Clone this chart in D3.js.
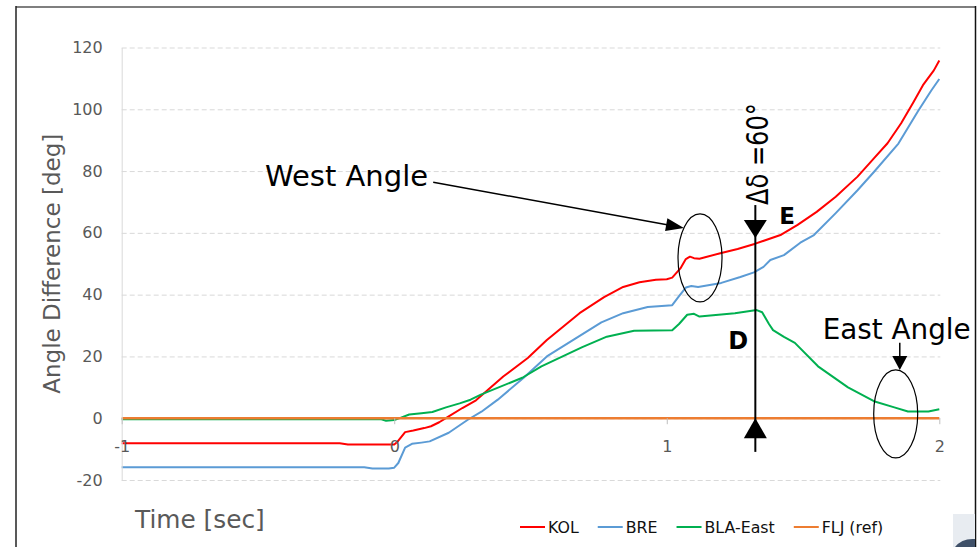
<!DOCTYPE html>
<html>
<head>
<meta charset="utf-8">
<script src="https://cdn.jsdelivr.net/npm/d3@7"></script>
<style>
  html, body { margin: 0; padding: 0; background: #fff; }
  svg { display: block; }
</style>
</head>
<body>
<svg id="chart" width="979" height="547"></svg>
<script>
// Angle difference of each bus against the FLJ reference, time in seconds
const seriesNames  = ["KOL", "BRE", "BLA-East", "FLJ (ref)"];
const seriesColors = ["#ff0000", "#5b9bd5", "#00b050", "#ed7d31"];

const kolAngle = [
  [-1, -8.1], [-0.2, -8.1], [-0.17, -8.5], [0, -8.5], [0.01, -7.8], [0.04, -4.5],
  [0.07, -4.0], [0.11, -3.2], [0.135, -2.6], [0.165, -1.3], [0.2, 0.6], [0.25, 3.3],
  [0.3, 5.8], [0.4, 13.5], [0.49, 19.5], [0.56, 25.3], [0.68, 34], [0.77, 39.2],
  [0.84, 42.5], [0.9, 44], [0.96, 44.8], [1.0, 45.0], [1.02, 45.5], [1.05, 48.5],
  [1.07, 51.5], [1.085, 52.3], [1.1, 51.8], [1.12, 51.6], [1.2, 53.5], [1.26, 54.8],
  [1.325, 56.5], [1.42, 59.4], [1.48, 62.6], [1.55, 66.8], [1.62, 71.7], [1.7, 78.2],
  [1.76, 84.1], [1.81, 89], [1.86, 95.5], [1.905, 102.3], [1.94, 107.8], [1.98, 112.6],
  [2.0, 115.8]
];
const breAngle = [
  [-1, -15.9], [-0.11, -15.9], [-0.08, -16.3], [-0.02, -16.3], [0, -16.0], [0.015, -14.5],
  [0.04, -9.5], [0.065, -8.3], [0.1, -7.9], [0.13, -7.5], [0.2, -4.7], [0.27, -0.5],
  [0.32, 2.1], [0.38, 6], [0.475, 13.1], [0.56, 20], [0.66, 25.5], [0.76, 31],
  [0.84, 34], [0.93, 36], [1.02, 36.6], [1.045, 39.5], [1.07, 42.3], [1.09, 42.8],
  [1.115, 42.5], [1.2, 43.8], [1.27, 45.7], [1.32, 47.2], [1.355, 49], [1.38, 51.2],
  [1.43, 52.8], [1.49, 56.8], [1.54, 59.3], [1.62, 66.4], [1.7, 73.8], [1.76, 79.7],
  [1.85, 88.9], [1.92, 99.1], [1.97, 106], [2.0, 109.8]
];
const blaAngle = [
  [-1, -0.3], [-0.05, -0.3], [-0.03, -0.8], [0, -0.6], [0.025, 0.2], [0.055, 1.2],
  [0.1, 1.6], [0.14, 2.0], [0.19, 3.5], [0.24, 4.8], [0.28, 6], [0.32, 7.7],
  [0.47, 13.1], [0.54, 16.8], [0.69, 23], [0.78, 26.4], [0.88, 28.3], [1.02, 28.5],
  [1.045, 30.5], [1.075, 33.5], [1.1, 33.8], [1.12, 32.9], [1.25, 34.0], [1.33, 35],
  [1.35, 34.3], [1.375, 30.5], [1.39, 28.5], [1.43, 26.3], [1.47, 24.4], [1.555, 16.8],
  [1.665, 10], [1.76, 5.5], [1.835, 3.5], [1.885, 2.2], [1.96, 2.2], [2.0, 2.9]
];
const fljAngle = [[-1, 0], [2, 0]];

const xTicks = [-1, 0, 1, 2];
const yTicks = [-20, 0, 20, 40, 60, 80, 100, 120];

const seriesData = [kolAngle, breAngle, blaAngle, fljAngle];

const svg = d3.select("#chart");
const FONT = "'DejaVu Sans', sans-serif";

const x = d3.scaleLinear().domain([-1, 2]).range([121.7, 939.3]);
const y = d3.scaleLinear().domain([-20, 120]).range([480, 47.5]);

// outer frame of the figure
svg.append("line").attr("x1", 16).attr("x2", 976).attr("y1", 7).attr("y2", 7)
  .attr("stroke", "#7f7f7f").attr("stroke-width", 2);
svg.append("line").attr("x1", 16).attr("x2", 16).attr("y1", 6).attr("y2", 547)
  .attr("stroke", "#222").attr("stroke-width", 1.5);
svg.append("line").attr("x1", 975.5).attr("x2", 975.5).attr("y1", 6).attr("y2", 547)
  .attr("stroke", "#111").attr("stroke-width", 1.5);
svg.append("rect").attr("x", 953).attr("y", 514).attr("width", 22).attr("height", 33)
  .attr("fill", "#e8ecf1");
svg.append("path").attr("d", "M955,547 Q962,538 975,539 L975,547 Z").attr("fill", "#3f5068");

// horizontal dashed gridlines
const grid = svg.append("g").attr("transform", `translate(${x(-1)},0)`)
  .call(d3.axisLeft(y).tickValues(yTicks).tickSize(-(x(2) - x(-1) + 1)).tickFormat(""));
grid.select(".domain").remove();
grid.selectAll(".tick line").attr("stroke", "#d9d9d9").attr("stroke-dasharray", "5,3");

// series
const line = d3.line().x(d => x(d[0])).y(d => y(d[1]));
svg.append("g").selectAll("path")
  .data(seriesData)
  .join("path")
  .attr("d", line)
  .attr("fill", "none")
  .attr("stroke", (d, i) => seriesColors[i])
  .attr("stroke-width", (d, i) => i === 3 ? 2.4 : 2)
  .attr("stroke-linejoin", "round");

// value axis
const yAxis = svg.append("g").attr("transform", `translate(${x(-1)},0)`)
  .call(d3.axisLeft(y).tickValues(yTicks).tickSize(0).tickPadding(19).tickFormat(d => String(d)));
yAxis.select(".domain").attr("stroke", "#d9d9d9");
yAxis.selectAll("text").attr("font-family", FONT).attr("font-size", 16).attr("fill", "#595959");

// time axis crossing at zero
const xAxis = svg.append("g").attr("transform", `translate(0,${y(0)})`)
  .call(d3.axisBottom(x).tickValues(xTicks).tickSize(6).tickPadding(16).tickFormat(d => String(d)));
xAxis.select(".domain").attr("stroke", "none");
xAxis.selectAll(".tick line").attr("stroke", "#bfbfbf");
xAxis.selectAll("text").attr("font-family", FONT).attr("font-size", 16).attr("fill", "#595959");

// axis titles
svg.append("text")
  .attr("transform", `translate(60,${(y(-20) + y(120)) / 2}) rotate(-90)`)
  .attr("text-anchor", "middle")
  .attr("font-family", FONT).attr("font-size", 23).attr("fill", "#595959")
  .text("Angle Difference [deg]");
svg.append("text")
  .attr("x", 135).attr("y", 528)
  .attr("font-family", FONT).attr("font-size", 24.8).attr("fill", "#595959")
  .text("Time [sec]");

// legend
const legend = svg.append("g").attr("transform", "translate(520,527)");
let lx = 0;
seriesNames.forEach((name, i) => {
  legend.append("line").attr("x1", lx).attr("x2", lx + 25).attr("y1", 0).attr("y2", 0)
    .attr("stroke", seriesColors[i]).attr("stroke-width", 2);
  const t = legend.append("text").attr("x", lx + 28).attr("y", 5.5)
    .attr("font-family", FONT).attr("font-size", 15.8).attr("fill", "#111")
    .text(name);
  lx += 28 + t.node().getComputedTextLength() + 19;
});

// annotations
const ann = svg.append("g").attr("fill", "#000").attr("stroke", "#000");

function arrowHead(g, tipX, tipY, dirX, dirY, len, half) {
  const bx = tipX - dirX * len, by = tipY - dirY * len;
  const px = -dirY, py = dirX;
  g.append("path")
    .attr("d", `M${tipX},${tipY}L${bx + px * half},${by + py * half}L${bx - px * half},${by - py * half}Z`)
    .attr("stroke", "none");
}
function arrow(g, x1, y1, x2, y2, len, half) {
  const dx = x2 - x1, dy = y2 - y1, L = Math.hypot(dx, dy);
  const ux = dx / L, uy = dy / L;
  g.append("line").attr("x1", x1).attr("y1", y1)
    .attr("x2", x2 - ux * len * 0.8).attr("y2", y2 - uy * len * 0.8)
    .attr("stroke-width", 1.5);
  arrowHead(g, x2, y2, ux, uy, len, half);
}

// West angle
ann.append("text").attr("x", x(-0.474)).attr("y", y(75.2)).attr("stroke", "none")
  .attr("font-family", FONT).attr("font-size", 29).attr("textLength", 163)
  .attr("lengthAdjust", "spacingAndGlyphs").text("West Angle");
arrow(ann, x(0.143), y(76.4), x(1.063), y(61.6), 18, 6.5);
ann.append("ellipse").attr("cx", x(1.122)).attr("cy", y(51.9)).attr("rx", 22).attr("ry", 44)
  .attr("fill", "none").attr("stroke-width", 1.2);

// East angle
ann.append("text").attr("x", x(1.572)).attr("y", y(25.7)).attr("stroke", "none")
  .attr("font-family", FONT).attr("font-size", 29).attr("textLength", 148)
  .attr("lengthAdjust", "spacingAndGlyphs").text("East Angle");
arrow(ann, x(1.855), y(24.4), x(1.855), y(15.6), 14, 7.5);
ann.append("ellipse").attr("cx", x(1.84)).attr("cy", y(1.4)).attr("rx", 22).attr("ry", 44)
  .attr("fill", "none").attr("stroke-width", 1.2);

// separation marker between the two areas
const tMark = 1.325;
ann.append("line").attr("x1", x(tMark)).attr("x2", x(tMark))
  .attr("y1", y(69)).attr("y2", y(-10.9)).attr("stroke-width", 2);
arrowHead(ann, x(tMark), y(58.3), 0, 1, 18, 11.5);
arrowHead(ann, x(tMark), y(0), 0, -1, 20, 11.5);
ann.append("text")
  .attr("transform", `translate(${x(tMark) + 13},${y(85.5)}) rotate(-90)`)
  .attr("text-anchor", "middle").attr("stroke", "none")
  .attr("font-family", FONT).attr("font-size", 31).attr("textLength", 102)
  .attr("lengthAdjust", "spacingAndGlyphs")
  .text("Δδ =60°");
ann.append("text").attr("x", x(tMark) + 24).attr("y", y(63)).attr("stroke", "none")
  .attr("font-family", FONT).attr("font-weight", "bold").attr("font-size", 23).text("E");
ann.append("text").attr("x", x(tMark) - 27).attr("y", y(22.5)).attr("stroke", "none")
  .attr("font-family", FONT).attr("font-weight", "bold").attr("font-size", 24).text("D");
</script>
</body>
</html>
